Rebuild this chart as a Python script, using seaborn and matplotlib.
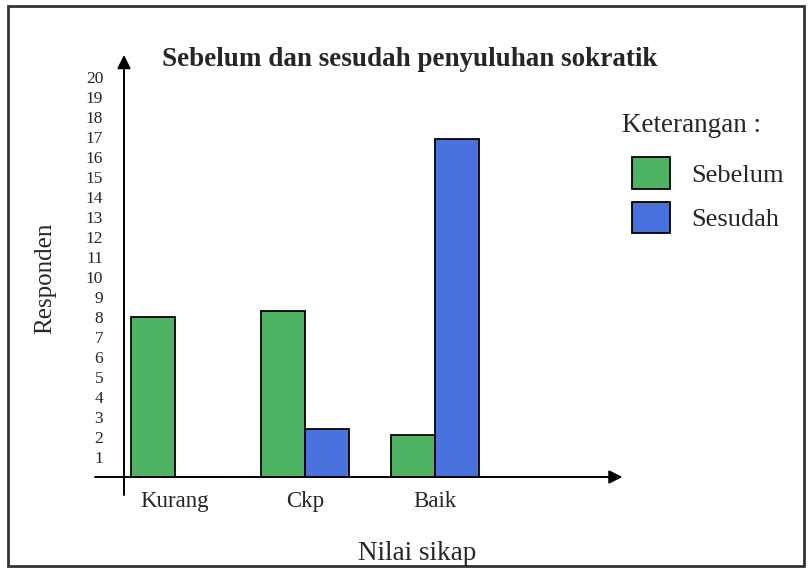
import matplotlib
matplotlib.use("Agg")
import matplotlib.pyplot as plt
from matplotlib.patches import Rectangle, Patch
import seaborn as sns
import pandas as pd

categories = ["Kurang", "Ckp", "Baik"]
sebelum = [8.0, 8.3, 2.1]
sesudah = [0.0, 2.4, 16.9]
series_names = ["Sebelum", "Sesudah"]
yticks = list(range(1, 21))

df = pd.DataFrame({
    "Nilai sikap": categories * 2,
    "Responden": sebelum + sesudah,
    "Keterangan": [series_names[0]] * 3 + [series_names[1]] * 3,
})

sns.set_style("white")
plt.rcParams["font.family"] = ["Liberation Serif", "DejaVu Serif"]

W, H = 810, 569
fig = plt.figure(figsize=(W / 100, H / 100), dpi=100)

def fx(px):
    return px / W

def fy(py):
    return 1 - py / H

ax_l, ax_r, ax_t, ax_b = 124, 620, 55, 477
ax = fig.add_axes([fx(ax_l), fy(ax_b), fx(ax_r - ax_l), fy(ax_t) - fy(ax_b)])

green = "#4DB262"
blue = "#4A72DE"
sns.barplot(data=df, x="Nilai sikap", y="Responden", hue="Keterangan",
            palette=[green, blue], width=0.68, edgecolor="black",
            linewidth=1.3, ax=ax, legend=False, saturation=1)

unit = 130.0
first_center = 175
ax.set_xlim((ax_l - first_center) / unit, (ax_r - first_center) / unit)
ax.set_ylim(0, (ax_b - ax_t) / 20.0)
for s in ax.spines.values():
    s.set_visible(False)

ax.set_yticks(yticks)
ax.set_yticklabels([str(t) for t in yticks], fontsize=12.5)
ax.tick_params(axis="y", length=0, pad=15)
ax.tick_params(axis="x", length=0, pad=10, labelsize=16.5)
ax.set_xlabel("")
ax.set_ylabel("")

# axes with arrows
ax.annotate("", xy=(0, 1.0), xytext=(0, -(495 - 477) / (ax_b - ax_t)),
            xycoords="axes fraction", textcoords="axes fraction",
            arrowprops=dict(arrowstyle="-|>", color="black", lw=1.4,
                            mutation_scale=20, shrinkA=0, shrinkB=0),
            annotation_clip=False)
ax.annotate("", xy=(1.005, 0), xytext=(-(ax_l - 95) / (ax_r - ax_l), 0),
            xycoords="axes fraction", textcoords="axes fraction",
            arrowprops=dict(arrowstyle="-|>", color="black", lw=1.4,
                            mutation_scale=20, shrinkA=0, shrinkB=0),
            annotation_clip=False)

fig.text(fx(410), fy(60), "Sebelum dan sesudah penyuluhan sokratik",
         ha="center", va="center", fontsize=19.5, fontweight="bold")
fig.text(fx(45), fy(278), "Responden", rotation=90, ha="center",
         va="center", fontsize=18)
fig.text(fx(417), fy(553), "Nilai sikap", ha="center", va="center",
         fontsize=19.5)
fig.text(fx(622), fy(125), "Keterangan :", ha="left", va="center",
         fontsize=19.5)

handles = [Patch(facecolor=green, edgecolor="black", lw=1.3),
           Patch(facecolor=blue, edgecolor="black", lw=1.3)]
fig.legend(handles, series_names, loc="upper left",
           bbox_to_anchor=(fx(614), fy(139)), frameon=False, fontsize=19,
           handlelength=1.44, handleheight=1.45, handletextpad=0.8,
           labelspacing=0.5, borderpad=0.2)

fig.patches.append(Rectangle((fx(8), fy(566)), fx(796), fy(6) - fy(566),
                             transform=fig.transFigure, fill=False,
                             edgecolor="#333333", lw=2))

fig.savefig("out.png", dpi=100, facecolor="white")
